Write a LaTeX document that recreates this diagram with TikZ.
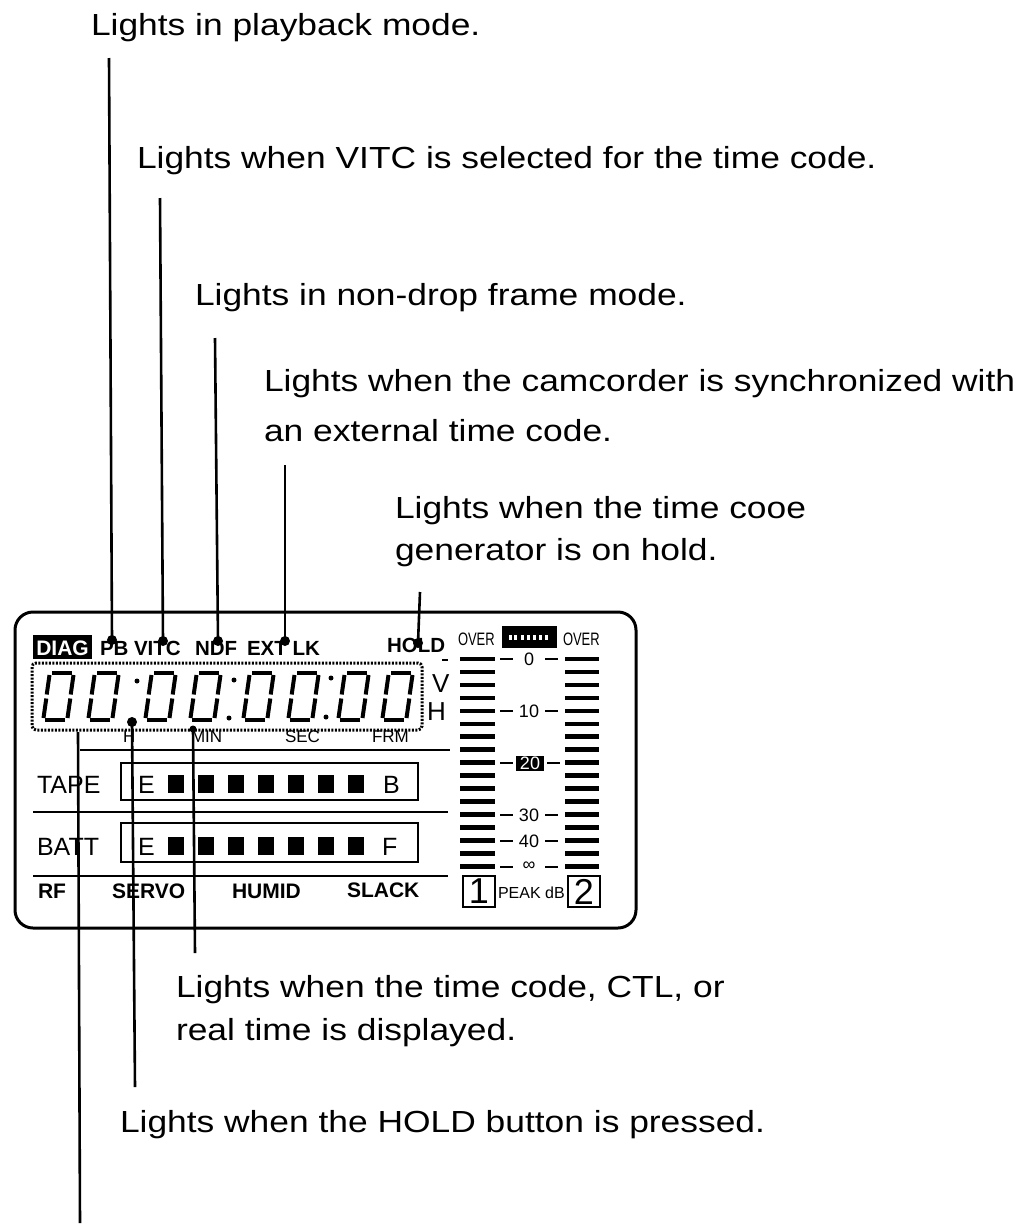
\documentclass[tikz,border=0pt]{standalone}
\usepackage{fontspec}
\setmainfont{Liberation Sans}
\newfontfamily\labfont{Liberation Sans}[FakeStretch=1.16]
\newfontfamily\narrowfont{Liberation Sans}[FakeStretch=0.72]
\begin{document}
\begin{tikzpicture}[x=1pt,y=-1pt,
  every node/.style={inner sep=0pt,outer sep=0pt},
  lab/.style={anchor=base west,font=\labfont\fontsize{30.5}{36}\selectfont},
  lead/.style={line width=2.6pt},
  leaddot/.style={circle,fill=black,minimum size=10pt,inner sep=0pt},
  colondot/.style={circle,fill=black,minimum size=5pt,inner sep=0pt},
  disp/.style={anchor=base west,font=\bfseries\fontsize{20.5}{24}\selectfont},
  dispr/.style={anchor=base west,font=\fontsize{25}{27}\selectfont},
  small/.style={anchor=base west,font=\fontsize{17}{19}\selectfont},
  meter/.style={anchor=base west,font=\narrowfont\fontsize{18}{20}\selectfont},
  scalelab/.style={anchor=center,font=\fontsize{18}{20}\selectfont},
  seg/.style={line width=4pt},
  thinline/.style={line width=1.6pt},
  framebox/.style={line width=1.5pt}
]
\useasboundingbox (0,0) rectangle (1018,1224);
\fill[white] (0,0) rectangle (1018,1224);

% ---------- outer display frame ----------
\draw[line width=3pt,rounded corners=18pt] (15,612) rectangle (636,928);

% ---------- top indicator row ----------
\fill[black] (33,635) rectangle (92,659);
\node[anchor=base,font=\bfseries\fontsize{21}{24}\selectfont,text=white] (diag) at (62.5,655) {DIAG};
\node[disp] (pb) at (100,655) {PB};
\node[disp] (vitc) at (134,655) {VITC};
\node[disp] (ndf) at (195,655) {NDF};
\node[disp] (extlk) at (247,655) {EXT LK};
\node[disp] (hold) at (387,652) {HOLD};

% ---------- time code digits ----------
\draw[line width=3pt,dash pattern=on 2pt off 1.5pt,rounded corners=4pt] (32,663) rectangle (422,730);
\foreach \dx in {43,88,145,190,243,288,338,382}{
  \draw[seg] ({\dx+9},673) -- ({\dx+29},673);
  \draw[seg] ({\dx+30.5},675) -- ({\dx+27.7},694.5);
  \draw[seg] ({\dx+27.3},698.5) -- ({\dx+24.5},718);
  \draw[seg] ({\dx+22},720) -- ({\dx+2},720);
  \draw[seg] ({\dx+0.5},718) -- ({\dx+3.3},698.5);
  \draw[seg] ({\dx+3.7},694.5) -- ({\dx+6.5},675);
}
\node[colondot] (c1a) at (137,681) {};
\node[colondot] (c2a) at (234,680) {};
\node[colondot] (c2b) at (229,718) {};
\node[colondot] (c3a) at (331,678) {};
\node[colondot] (c3b) at (326,717) {};
\node[anchor=base west,font=\fontsize{26}{28}\selectfont] (vlab) at (432,692) {V};
\node[anchor=base west,font=\fontsize{26}{28}\selectfont] (hlab) at (427,720) {H};
\draw[thinline] (442,660) -- (448,660);
\node[small] (hr) at (123,742) {H};
\node[small] (min) at (191,742) {MIN};
\node[small] (sec) at (285,742) {SEC};
\node[small] (frm) at (372,742) {FRM};

% ---------- dividers ----------
\draw[thinline] (80,750) -- (450,750);
\draw[thinline] (33,812) -- (448,812);
\draw[thinline] (33,876) -- (448,876);

% ---------- TAPE / BATT bars ----------
\node[dispr] (tape) at (37,793) {TAPE};
\node[dispr] (batt) at (37,855) {BATT};
\draw[framebox] (121,763) rectangle (418,800);
\draw[framebox] (121,823) rectangle (418,862);
\node[dispr] (te) at (138,793) {E};
\node[dispr] (be) at (138,855) {E};
\foreach \i in {0,...,6}{
  \fill ({168+30*\i},775) rectangle ({184+30*\i},793);
  \fill ({168+30*\i},837) rectangle ({184+30*\i},855);
}
\node[dispr] (tb) at (383,793) {B};
\node[dispr] (bf) at (382,855) {F};

% ---------- bottom status row ----------
\node[disp,font=\bfseries\fontsize{21}{23}\selectfont] (rf) at (38,898) {RF};
\node[disp,font=\bfseries\fontsize{21}{23}\selectfont] (servo) at (112,898) {SERVO};
\node[disp,font=\bfseries\fontsize{21}{23}\selectfont] (humid) at (232,898) {HUMID};
\node[disp,font=\bfseries\fontsize{21}{23}\selectfont] (slack) at (347,897) {SLACK};

% ---------- level meter ----------
\node[meter] (over1) at (458,645) {OVER};
\node[meter] (over2) at (563,645) {OVER};
\fill[black] (502,626) rectangle (557,648);
\foreach \xx in {509,514,521,527,533,539,545}{
  \fill[white] (\xx,635) rectangle ({\xx+2.5},640);
}
\foreach \i in {0,...,16}{
  \pgfmathsetmacro\yy{659+12.96*\i}
  \fill (460,{\yy-2.3}) rectangle (495,{\yy+2.3});
  \fill (565,{\yy-2.3}) rectangle (599,{\yy+2.3});
}
\foreach \yy/\txt in {659/0,711/10,815/30,841/40}{
  \node[scalelab] at (529,\yy) {\txt};
  \draw[line width=1.5pt] (500,\yy) -- (513,\yy);
  \draw[line width=1.5pt] (545,\yy) -- (558,\yy);
}
\node[scalelab] (inf) at (529,866) {∞};
\draw[line width=1.5pt] (500,867) -- (513,867);
\draw[line width=1.5pt] (545,867) -- (558,867);
\fill[black] (516,756) rectangle (544,771);
\node[scalelab,text=white] (twenty) at (530,763.5) {20};
\draw[line width=1.5pt] (500,763) -- (513,763);
\draw[line width=1.5pt] (547,763) -- (560,763);
\draw[framebox] (463,876) rectangle (495,907);
\node[anchor=center,font=\fontsize{36}{38}\selectfont] (ch1) at (479,891.5) {1};
\draw[framebox] (568,876) rectangle (600,907);
\node[anchor=center,font=\fontsize{36}{38}\selectfont] (ch2) at (584,891.5) {2};
\node[anchor=base west,font=\fontsize{16}{18}\selectfont] (peak) at (498,898) {PEAK dB};

% ---------- labels ----------
\node[lab] (l1) at (91,35) {Lights in playback mode.};
\node[lab] (l2) at (137,168) {Lights when VITC is selected for the time code.};
\node[lab] (l3) at (195,305) {Lights in non-drop frame mode.};
\node[lab] (l4a) at (264,391) {Lights when the camcorder is synchronized with};
\node[lab] (l4b) at (264,441) {an external time code.};
\node[lab] (l5a) at (395,518) {Lights when the time cooe};
\node[lab] (l5b) at (395,560) {generator is on hold.};
\node[lab] (l6a) at (176,997) {Lights when the time code, CTL, or};
\node[lab] (l6b) at (176,1040) {real time is displayed.};
\node[lab] (l7) at (120,1132) {Lights when the HOLD button is pressed.};

% ---------- leader lines ----------
\coordinate (t1) at (109,58);
\coordinate (t2) at (160,198);
\coordinate (t3) at (215,338);
\coordinate (t4) at (285,465);
\coordinate (t5) at (420,592);
\node[leaddot] (d1) at (112,640) {};
\node[leaddot] (d2) at (163,641) {};
\node[leaddot] (d3) at (218,641) {};
\node[leaddot] (d4) at (285,641) {};
\node[leaddot] (d5) at (418,643) {};
\draw[lead] (t1) -- (d1.center);
\draw[lead] (t2) -- (d2.center);
\draw[lead] (t3) -- (d3.center);
\draw[lead] (t4) -- (d4.center);
\draw[lead] (t5) -- (d5.center);

\coordinate (u1) at (78,732);
\coordinate (b1) at (80,1223);
\node[leaddot] (d6) at (132,722) {};
\coordinate (b2) at (135,1087);
\node[leaddot,minimum size=7pt] (d7) at (193,729) {};
\coordinate (b3) at (195,953);
\draw[lead] (u1) -- (b1);
\draw[lead] (d6.center) -- (b2);
\draw[lead] (d7.center) -- (b3);
\end{tikzpicture}
\end{document}
